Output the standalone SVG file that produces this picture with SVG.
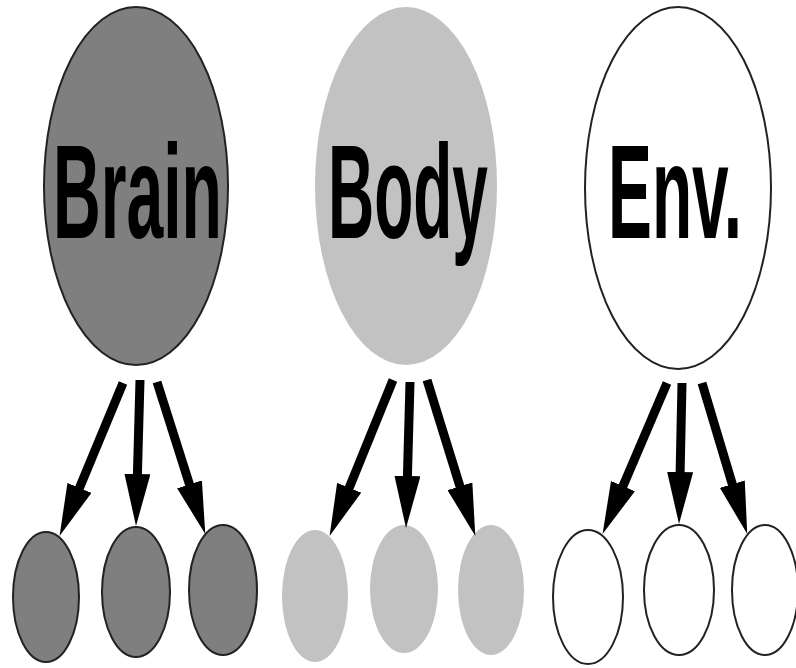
<svg xmlns="http://www.w3.org/2000/svg" width="796" height="668" viewBox="0 0 796 668">
<style>
.brain{fill:#7f7f7f;stroke:#222;stroke-width:2}
.body{fill:#c2c2c2;stroke:none}
.env{fill:#fff;stroke:#222;stroke-width:2}
.lbl{font-family:"Liberation Sans",Arial,sans-serif;font-weight:bold;font-size:133px;fill:#000}
.arr{stroke:#000;stroke-width:9;fill:none;marker-end:url(#ah)}
</style>
<defs>
<marker id="ah" markerUnits="userSpaceOnUse" markerWidth="52" markerHeight="26" viewBox="0 0 52 26" refX="1" refY="13" orient="auto">
<path d="M0,0 L52,13 L0,26 z" fill="#000"/>
</marker>
</defs>
<rect width="796" height="668" fill="#fff"/>
<g id="brain">
<ellipse class="brain" cx="136" cy="186" rx="92" ry="179"/>
<text class="lbl" transform="translate(53,238) scale(0.497,1)">Brain</text>
</g>
<g id="body">
<ellipse class="body" cx="406" cy="186" rx="91" ry="179"/>
<text class="lbl" transform="translate(328,238) scale(0.481,1)">Body</text>
</g>
<g id="env">
<ellipse class="env" cx="678" cy="188" rx="93" ry="181"/>
<text class="lbl" transform="translate(608,238) scale(0.495,1)">Env.</text>
</g>
<g id="brain-1"><ellipse class="brain" cx="46" cy="597" rx="33" ry="65"/></g>
<g id="brain-2"><ellipse class="brain" cx="136" cy="592" rx="34" ry="65"/></g>
<g id="brain-3"><ellipse class="brain" cx="223" cy="590" rx="34" ry="65"/></g>
<g id="body-1"><ellipse class="body" cx="315" cy="596" rx="33" ry="66"/></g>
<g id="body-2"><ellipse class="body" cx="404" cy="589" rx="34" ry="64"/></g>
<g id="body-3"><ellipse class="body" cx="491" cy="590" rx="33" ry="65"/></g>
<g id="env-1"><ellipse class="env" cx="588" cy="597" rx="35" ry="67"/></g>
<g id="env-2"><ellipse class="env" cx="679" cy="590" rx="35" ry="65"/></g>
<g id="env-3"><ellipse class="env" cx="765" cy="590" rx="33" ry="65"/></g>
<g id="connectors">
<line class="arr" x1="123" y1="383" x2="79.1" y2="488.8"/>
<line class="arr" x1="140" y1="380" x2="137.4" y2="475"/>
<line class="arr" x1="157" y1="382" x2="189.8" y2="485.3"/>
<line class="arr" x1="393" y1="380" x2="348.8" y2="488.7"/>
<line class="arr" x1="410" y1="382" x2="407.4" y2="477"/>
<line class="arr" x1="427" y1="380" x2="460.2" y2="487.2"/>
<line class="arr" x1="667" y1="383" x2="622.6" y2="487"/>
<line class="arr" x1="682" y1="383" x2="680.1" y2="473"/>
<line class="arr" x1="702" y1="383" x2="732.6" y2="485.1"/>
</g>
</svg>
